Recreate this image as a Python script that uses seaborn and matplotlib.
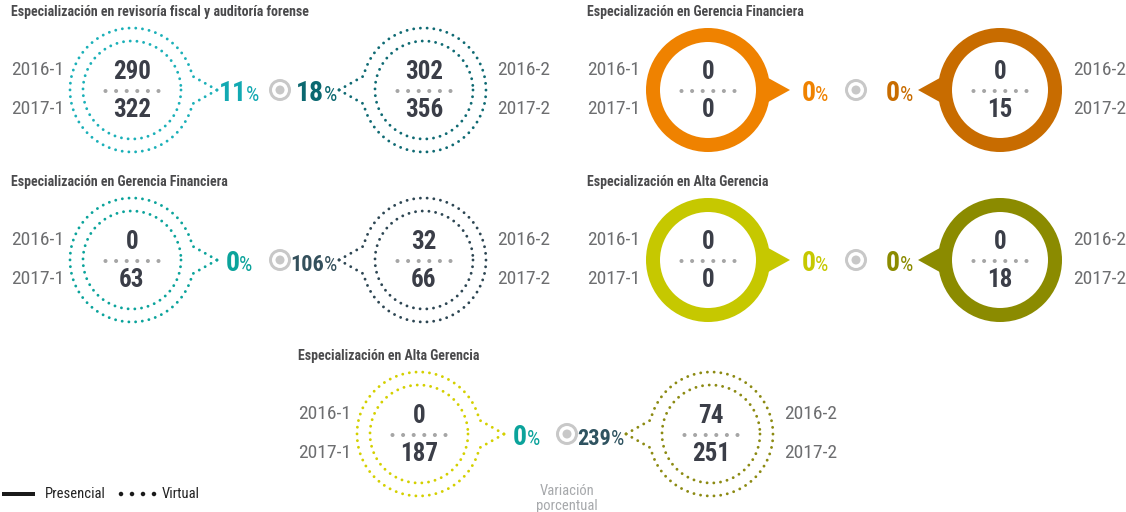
import numpy as np
import pandas as pd
import matplotlib
matplotlib.use("Agg")
import matplotlib.pyplot as plt
import seaborn as sns
from matplotlib import font_manager
from matplotlib.patches import Circle, Polygon

# estilo y fuente (condensada si existe)
sns.set_theme(style="white")
installed = {f.name for f in font_manager.fontManager.ttflist}
font_name = next((f for f in ['Liberation Sans Narrow', 'Roboto Condensed',
                              'Open Sans Condensed', 'Noto Sans'] if f in installed), 'DejaVu Sans')
plt.rcParams['font.family'] = [font_name, 'DejaVu Sans']

# === datos ===
titles = [
    "Especialización en revisoría fiscal y auditoría forense",
    "Especialización en Gerencia Financiera",
    "Especialización en Gerencia Financiera",
    "Especialización en Alta Gerencia",
    "Especialización en Alta Gerencia",
]
modes = ['virtual', 'presencial', 'virtual', 'presencial', 'virtual']
v_2016_1 = [290, 0, 0, 0, 0]
v_2017_1 = [322, 0, 63, 0, 187]
v_2016_2 = [302, 0, 32, 0, 74]
v_2017_2 = [356, 15, 66, 18, 251]
pct_sem1 = [11, 0, 0, 0, 0]
pct_sem2 = [18, 0, 106, 0, 239]
labels_sem1 = ['2016-1', '2017-1']
labels_sem2 = ['2016-2', '2017-2']

ring_col_1 = ['#1bb0b8', '#ef8200', '#0ba39b', '#c6c800', '#d4d000']
ring_col_2 = ['#0f6a73', '#c86c00', '#2d4653', '#8b8b00', '#8c8a12']
pct_col_1 = ['#12a9b2', '#ef8200', '#0ba39b', '#c6c800', '#0ba39b']
pct_col_2 = ['#0b6870', '#c86c00', '#34505c', '#8b8b00', '#2f5360']

# posición de cada bloque (pixeles)
origins = [(0, 0), (576, 0), (0, 170), (576, 170), (287, 344)]

NUM_COL = '#3b3e48'
LAB_COL = '#6d6e70'
GREY = '#c8c8c8'
PX = 0.72  # px -> pt a dpi 100

fig = plt.figure(figsize=(11.26, 5.12), dpi=100)
ax = fig.add_axes([0, 0, 1, 1])
ax.set_xlim(0, 1126)
ax.set_ylim(512, 0)
ax.axis('off')


def dotted_bubble(cx, cy, d, color):
    # círculo exterior con punta hacia d (+1 derecha, -1 izquierda)
    th0 = np.radians(13)
    t = np.linspace(th0, 2 * np.pi - th0, 200)
    if d < 0:
        t = t + np.pi
    xs = np.concatenate([[cx + d * 85], cx + 62 * np.cos(t), [cx + d * 85]])
    ys = np.concatenate([[cy], cy - 62 * np.sin(t), [cy]])
    style = dict(color=color, lw=2.1, dash_capstyle='round', linestyle=(0, (0.01, 2.3)))
    ax.plot(xs, ys, **style)
    t2 = np.linspace(0, 2 * np.pi, 200)
    ax.plot(cx + 49 * np.cos(t2), cy + 49 * np.sin(t2), **style)


def solid_bubble(cx, cy, d, color):
    ax.add_patch(Circle((cx, cy), 55, fill=False, lw=14 * PX, ec=color))
    ax.add_patch(Polygon([(cx + d * 53, cy - 16), (cx + d * 82, cy), (cx + d * 53, cy + 16)],
                         closed=True, fc=color, ec='none'))


sep_rows = []
icon_rows = []
pct_items = []
for i in range(len(titles)):
    ox, oy = origins[i]
    cy = 90 + oy
    c1 = 132 + ox
    c2 = 424 + ox
    ax.text(11 + ox, 12 + oy, titles[i], fontsize=10, fontweight='bold', color='#4a4a4c',
            ha='left', va='center')

    if modes[i] == 'virtual':
        dotted_bubble(c1, cy, 1, ring_col_1[i])
        dotted_bubble(c2, cy, -1, ring_col_2[i])
    else:
        solid_bubble(c1, cy, 1, ring_col_1[i])
        solid_bubble(c2, cy, -1, ring_col_2[i])

    for cx, top, bot in [(c1, v_2016_1[i], v_2017_1[i]), (c2, v_2016_2[i], v_2017_2[i])]:
        ax.text(cx, cy - 18, str(top), fontsize=18, fontweight='bold', color=NUM_COL,
                ha='center', va='center')
        ax.text(cx, cy + 20, str(bot), fontsize=18, fontweight='bold', color=NUM_COL,
                ha='center', va='center')
        for k in range(6):
            sep_rows.append({'x': cx - 26.5 + k * 10.6, 'y': cy + 1})

    ax.text(11 + ox, cy - 20, labels_sem1[0], fontsize=14, color=LAB_COL, ha='left', va='center')
    ax.text(11 + ox, cy + 19, labels_sem1[1], fontsize=14, color=LAB_COL, ha='left', va='center')
    ax.text(497 + ox, cy - 20, labels_sem2[0], fontsize=14, color=LAB_COL, ha='left', va='center')
    ax.text(497 + ox, cy + 19, labels_sem2[1], fontsize=14, color=LAB_COL, ha='left', va='center')

    # icono central
    ax.add_patch(Circle((c1 + 148, cy), 9.5, fill=False, lw=3 * PX, ec=GREY))
    icon_rows.append({'x': c1 + 148, 'y': cy})

    # variaciones porcentuales
    pct_items.append((c1 + 107, cy + 11, pct_sem1[i], pct_col_1[i], 'center'))
    pct_items.append((c2 - 87, cy + 11, pct_sem2[i], pct_col_2[i], 'right'))

sep_df = pd.DataFrame(sep_rows)
icon_df = pd.DataFrame(icon_rows)
sns.scatterplot(data=sep_df, x='x', y='y', color='#a6a6a6', s=(4 * PX) ** 2 * 1.0,
                edgecolor='none', ax=ax, legend=False)
sns.scatterplot(data=icon_df, x='x', y='y', color=GREY, s=(9 * PX) ** 2,
                edgecolor='none', ax=ax, legend=False)

# textos de porcentaje: número grande + "%" pequeño
fig.canvas.draw()
renderer = fig.canvas.get_renderer()
inv = ax.transData.inverted()


def text_width(t):
    bb = t.get_window_extent(renderer=renderer)
    (x0, _), (x1, _) = inv.transform([(bb.x0, bb.y0), (bb.x1, bb.y1)])
    return x1 - x0


for x, base, val, col, align in pct_items:
    size = 20 if len(str(val)) < 3 else 16
    tn = ax.text(0, base, str(val), fontsize=size, fontweight='bold', color=col,
                 ha='left', va='baseline')
    tp = ax.text(0, base, '%', fontsize=15, color=col, ha='left', va='baseline')
    wn, wp = text_width(tn), text_width(tp)
    gap = -1.5 if str(val).endswith('1') else 0.0
    total = wn + wp + gap
    start = x - total / 2 if align == 'center' else x - total
    tn.set_x(start)
    tp.set_x(start + wn + gap)

# leyenda
ax.plot([2, 35], [494, 494], color='#1a1a1a', lw=4 * PX, solid_capstyle='butt')
ax.text(45, 494, 'Presencial', fontsize=10.5, color='#222222', ha='left', va='center')
leg_dots = pd.DataFrame({'x': [121, 132, 143, 154], 'y': [494] * 4})
sns.scatterplot(data=leg_dots, x='x', y='y', color='#1a1a1a', s=(4.5 * PX) ** 2,
                edgecolor='none', ax=ax, legend=False)
ax.text(162, 494, 'Virtual', fontsize=10.5, color='#222222', ha='left', va='center')

ax.text(567, 491, 'Variación', fontsize=10.5, color='#a7a9ac', ha='center', va='center')
ax.text(567, 506, 'porcentual', fontsize=10.5, color='#a7a9ac', ha='center', va='center')

ax.set_xlim(0, 1126)
ax.set_ylim(512, 0)
ax.axis('off')
fig.savefig('out.png', dpi=100)
